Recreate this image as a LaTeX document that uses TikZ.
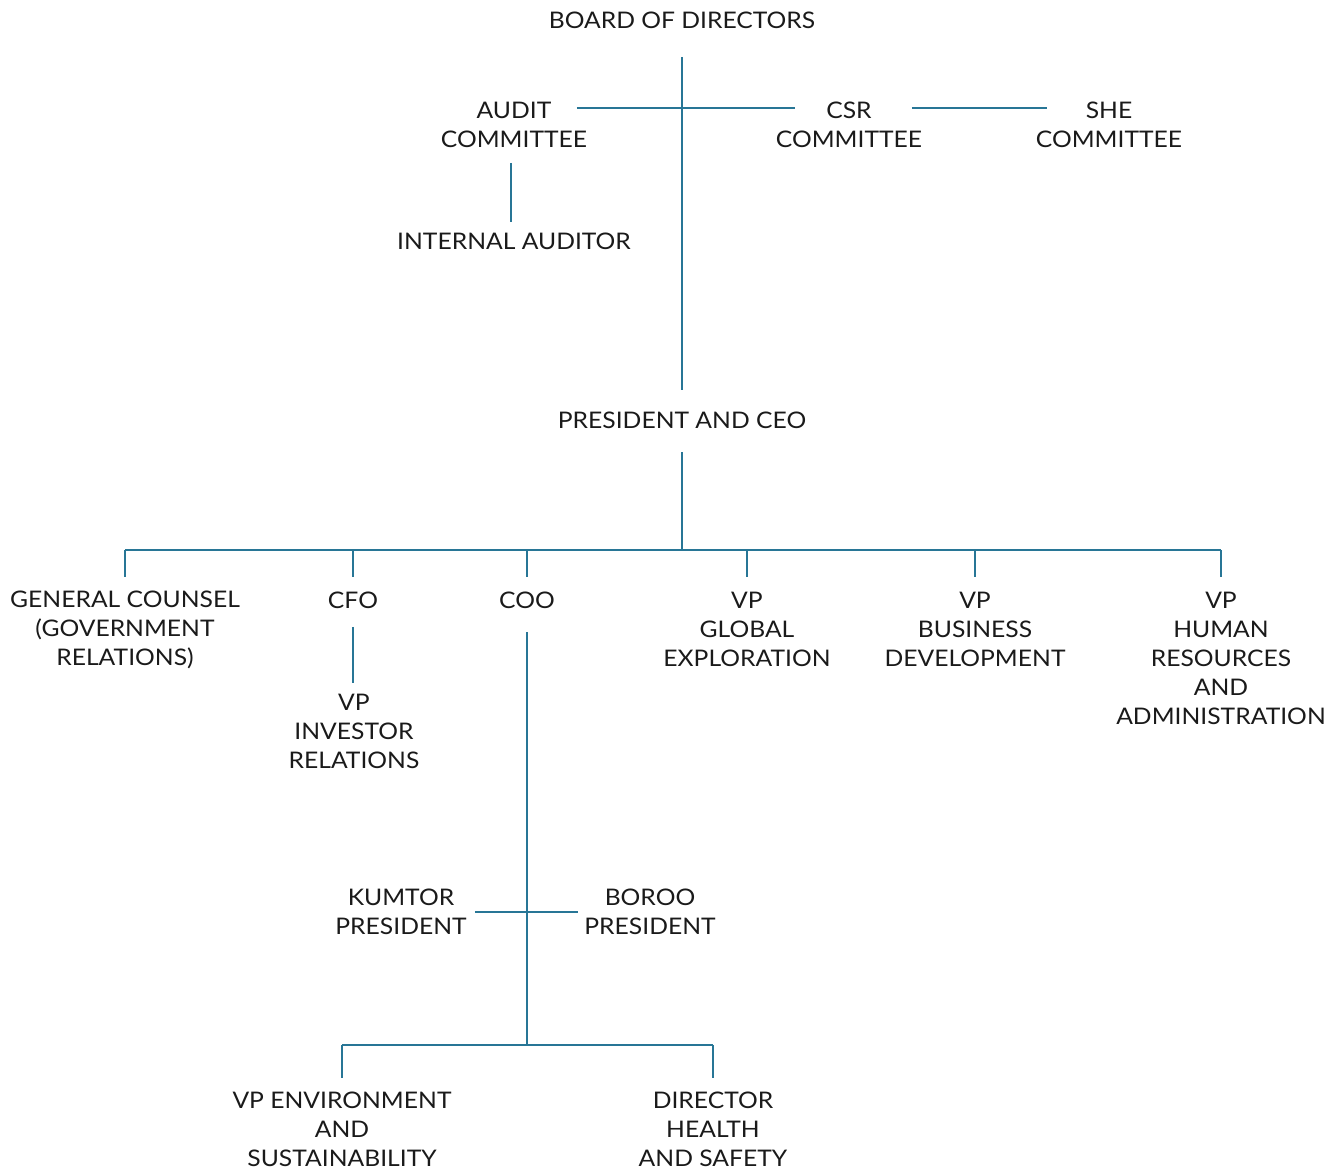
\documentclass[tikz,border=0pt]{standalone}
\usepackage{fontspec}
\setmainfont{Lato}[FakeStretch=1.08]
\usepackage{xcolor}
\usetikzlibrary{positioning}
\definecolor{orgline}{RGB}{40,118,150}
\definecolor{orgtext}{RGB}{26,26,26}

\begin{document}
\begin{tikzpicture}[
  x=0.02cm, y=-0.02cm,
  role/.style={align=center, inner sep=0pt, text=orgtext,
               font=\fontsize{13}{16.5}\selectfont},
  link/.style={draw=orgline, line width=0.85pt},
]
  \useasboundingbox (0,0) rectangle (1336,1170);
  % board level
  \node[role] (board) at (682,20) {BOARD OF DIRECTORS};
  \node[role] (audit) at (514,125) {AUDIT\\COMMITTEE};
  \node[role] (csr) at (849,125) {CSR\\COMMITTEE};
  \node[role] (she) at (1109,125) {SHE\\COMMITTEE};
  \node[role] (auditor) at (514,241) {INTERNAL AUDITOR};
  \node[role] (ceo) at (682,420) {PRESIDENT AND CEO};
  % direct reports
  \node[role] (counsel) at (125,630) {GENERAL COUNSEL\\(GOVERNMENT\\RELATIONS)};
  \node[role] (cfo) at (353,600) {CFO};
  \node[role] (coo) at (527,600) {COO};
  \node[role] (explo) at (747,629) {VP\\GLOBAL\\EXPLORATION};
  \node[role] (busdev) at (975,629) {VP\\BUSINESS\\DEVELOPMENT};
  \node[role] (hr) at (1221,658) {VP\\HUMAN\\RESOURCES\\AND\\ADMINISTRATION};
  \node[role] (ir) at (354,731) {VP\\INVESTOR\\RELATIONS};
  % operations
  \node[role] (kumtor) at (401,912) {KUMTOR\\PRESIDENT};
  \node[role] (boroo) at (650,912) {BOROO\\PRESIDENT};
  \node[role] (env) at (342,1129) {VP ENVIRONMENT\\AND\\SUSTAINABILITY};
  \node[role] (hse) at (713,1129) {DIRECTOR\\HEALTH\\AND SAFETY};
  % junctions
  \coordinate (cmt) at (682,108);
  \coordinate (staff) at (682,550);
  \coordinate (mines) at (527,912);
  \coordinate (ops) at (527,1045);
  % connectors
  \draw[link, shorten <=21.05pt, shorten >=17.07pt] (board.center) -- (ceo.center);
  \draw[link, shorten <=35.85pt, shorten >=30.73pt] (audit.center |- cmt) -- (csr.center |- cmt);
  \draw[link, shorten <=35.85pt, shorten >=35.28pt] (csr.center |- cmt) -- (she.center |- cmt);
  \draw[link, shorten <=21.62pt, shorten >=10.81pt] ([xshift=-0.06cm]audit.center) -- ([xshift=-0.06cm]auditor.center);
  \draw[link, shorten <=18.21pt] (ceo.center) -- (staff);
  \draw[link] (counsel.center |- staff) -- (hr.center |- staff);
  \foreach \n in {counsel,cfo,coo,explo,busdev,hr}
    \draw[link] (\n.center |- staff) -- ++(0,27);
  \draw[link, shorten <=15.36pt, shorten >=27.31pt] (cfo.center) -- (cfo.center |- ir.center);
  \draw[link, shorten <=18.21pt] (coo.center) -- (ops);
  \draw[link, shorten <=42.11pt, shorten >=40.97pt] (kumtor.center |- mines) -- (boroo.center |- mines);
  \draw[link] (env.center |- ops) -- (hse.center |- ops);
  \foreach \n in {env,hse}
    \draw[link] (\n.center |- ops) -- ++(0,33);
\end{tikzpicture}
\end{document}
